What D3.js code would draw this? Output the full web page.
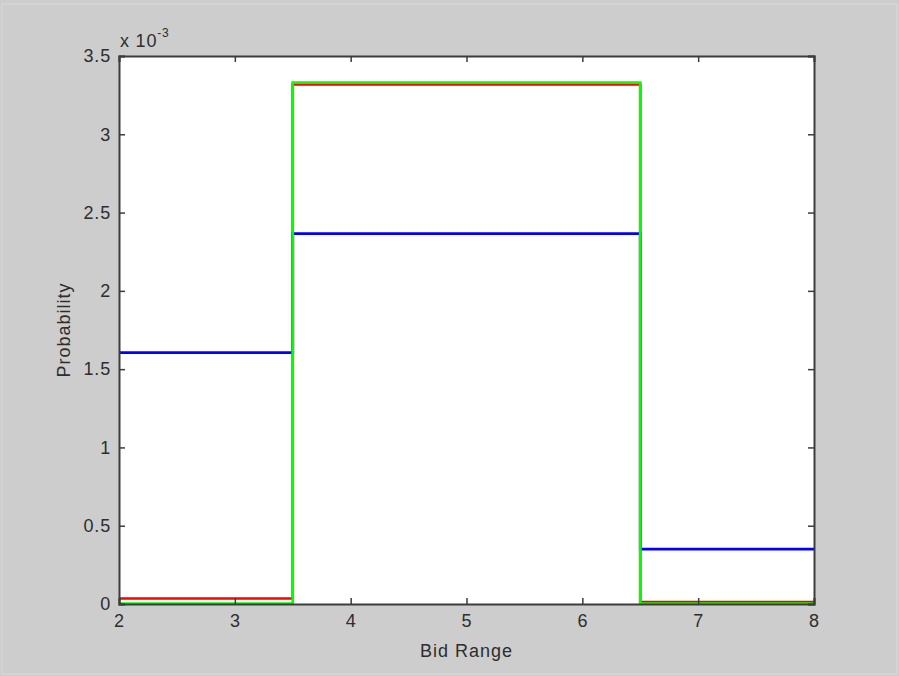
<!DOCTYPE html>
<html>
<head>
<meta charset="utf-8">
<script src="https://cdn.jsdelivr.net/npm/d3@7"></script>
<style>
  html, body { margin: 0; padding: 0; background: #cdcdcd; }
  svg { display: block; }
  text { font-family: "Liberation Sans", Arial, sans-serif; fill: #2e2e2e; }
</style>
</head>
<body>
<svg id="chart" width="899" height="676"></svg>
<script>
// Bin edges along the bid range and the probability of each bin (×10^-3)
const binEdges = [2, 3.5, 6.5, 8];
const blueValues = [1.605, 2.365, 0.350];
const redValues = [0.035, 3.318, 0.012];
const greenValues = [0.003, 3.330, 0.003];
const xTicks = [2, 3, 4, 5, 6, 7, 8];
const yTicks = [0, 0.5, 1, 1.5, 2, 2.5, 3, 3.5];

const series = [
  { values: blueValues, color: "#0000ff" },
  { values: redValues, color: "#ff0000" },
  { values: greenValues, color: "#00ff00" }
];

const svg = d3.select("#chart");
const W = 899, H = 676;
const m = { left: 119, right: 85, top: 56, bottom: 72 };
const iw = W - m.left - m.right, ih = H - m.top - m.bottom;

// faint frame edge
svg.append("rect").attr("x", 2).attr("y", 4).attr("width", W - 4).attr("height", H - 6)
  .attr("fill", "#cdcdcd").attr("stroke", "#dadada").attr("stroke-width", 1);

const x = d3.scaleLinear().domain([2, 8]).range([m.left, m.left + iw]);
const y = d3.scaleLinear().domain([0, 3.5]).range([m.top + ih, m.top]);

// plot area
svg.append("rect").attr("x", m.left).attr("y", m.top).attr("width", iw).attr("height", ih)
  .attr("fill", "#ffffff");

// stair lines
const stair = d3.line().x(d => x(d[0])).y(d => y(d[1])).curve(d3.curveStepAfter);
series.forEach(s => {
  const pts = s.values.map((v, i) => [binEdges[i], v]);
  pts.push([binEdges[binEdges.length - 1], s.values[s.values.length - 1]]);
  svg.append("path").datum(pts).attr("d", stair)
    .attr("fill", "none").attr("stroke", s.color).attr("stroke-width", 2.7)
    .attr("stroke-linejoin", "miter");
});

// axes with inward ticks on all four sides
const tickLen = 6;
const axisColor = "#3c3c3c";
const axBottom = svg.append("g").attr("transform", `translate(0,${m.top + ih})`)
  .call(d3.axisBottom(x).tickValues(xTicks).tickSize(-tickLen).tickPadding(10).tickFormat(d3.format("d")));
const axTop = svg.append("g").attr("transform", `translate(0,${m.top})`)
  .call(d3.axisTop(x).tickValues(xTicks).tickSize(-tickLen).tickFormat(""));
const axLeft = svg.append("g").attr("transform", `translate(${m.left},0)`)
  .call(d3.axisLeft(y).tickValues(yTicks).tickSize(-tickLen).tickPadding(8).tickFormat(d => String(d)));
const axRight = svg.append("g").attr("transform", `translate(${m.left + iw},0)`)
  .call(d3.axisRight(y).tickValues(yTicks).tickSize(-tickLen).tickFormat(""));

[axBottom, axTop, axLeft, axRight].forEach(g => {
  g.select(".domain").attr("stroke", axisColor).attr("stroke-width", 2);
  g.selectAll(".tick line").attr("stroke", axisColor).attr("stroke-width", 1.5);
  g.selectAll(".tick text").attr("font-size", 18).attr("fill", "#2e2e2e")
    .attr("letter-spacing", "0.8px")
    .attr("font-family", "'Liberation Sans', Arial, sans-serif");
});

// exponent label
const exp = svg.append("text").attr("x", m.left + 1).attr("y", 47)
  .attr("font-size", 18).attr("letter-spacing", "0.8px");
exp.append("tspan").text("x 10");
exp.append("tspan").attr("dy", -10).attr("font-size", 12).text("-3");

// axis titles
svg.append("text").attr("x", x(5)).attr("y", 657).attr("text-anchor", "middle")
  .attr("font-size", 18).attr("letter-spacing", "1px").text("Bid Range");
svg.append("text").attr("transform", `translate(70,${y(1.75)}) rotate(-90)`)
  .attr("text-anchor", "middle").attr("font-size", 18).attr("letter-spacing", "1px").text("Probability");
</script>
</body>
</html>
